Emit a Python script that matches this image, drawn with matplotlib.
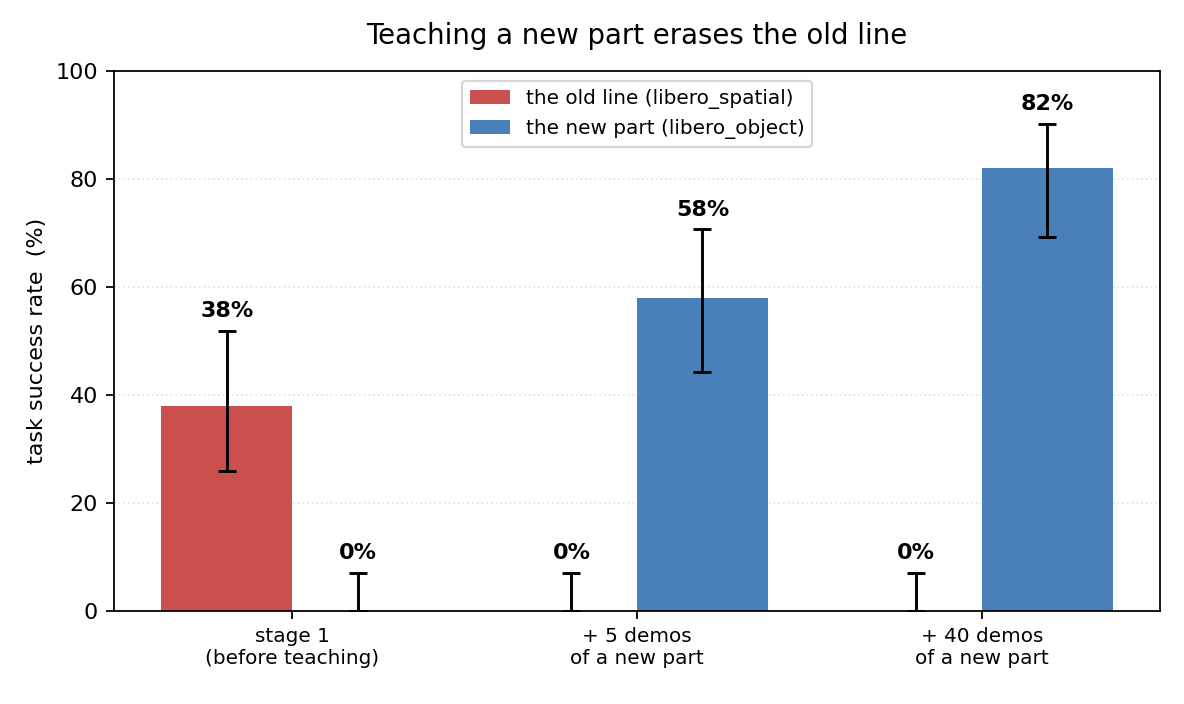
import numpy as np
import matplotlib
matplotlib.use('Agg')
import matplotlib.pyplot as plt

stages = ['stage 1\n(before teaching)', '+ 5 demos\nof a new part', '+ 40 demos\nof a new part']
old_rate = [38, 0, 0]
old_lo = [25.9, 0, 0]
old_hi = [51.9, 7.1, 7.1]
new_rate = [0, 58, 82]
new_lo = [0, 44.2, 69.2]
new_hi = [7.1, 70.7, 90.2]

old_color = '#c9504d'
new_color = '#4a80b9'

if __name__ == '__main__':
    fig, ax = plt.subplots(figsize=(7.4, 4.4), dpi=160)
    x = np.arange(len(stages))
    w = 0.38

    def draw(offset, rate, lo, hi, color, label):
        rate = np.array(rate)
        err = [rate - np.array(lo), np.array(hi) - rate]
        ax.bar(x + offset, rate, w, color=color, label=label, zorder=2)
        ax.errorbar(x + offset, rate, yerr=err, fmt='none', ecolor='black',
                    elinewidth=1.3, capsize=4, capthick=1.3, zorder=3)
        for xi, r, h in zip(x + offset, rate, hi):
            ax.text(xi, h + 1.8, f'{r:.0f}%', ha='center', va='bottom',
                    fontsize=10, fontweight='bold')

    draw(-w / 2, old_rate, old_lo, old_hi, old_color, 'the old line (libero_spatial)')
    draw(w / 2, new_rate, new_lo, new_hi, new_color, 'the new part (libero_object)')

    ax.set_xticks(x)
    ax.set_xticklabels(stages, fontsize=9)
    ax.set_ylim(0, 100)
    ax.set_ylabel('task success rate  (%)')
    ax.set_title('Teaching a new part erases the old line', fontsize=12.4, pad=12)
    ax.yaxis.grid(True, linestyle=':', alpha=0.35, zorder=0)
    ax.set_axisbelow(True)
    ax.legend(loc='upper center', fontsize=9)

    fig.subplots_adjust(left=0.096, right=0.98, top=0.899, bottom=0.132)
    fig.savefig('out.png', dpi=160)
